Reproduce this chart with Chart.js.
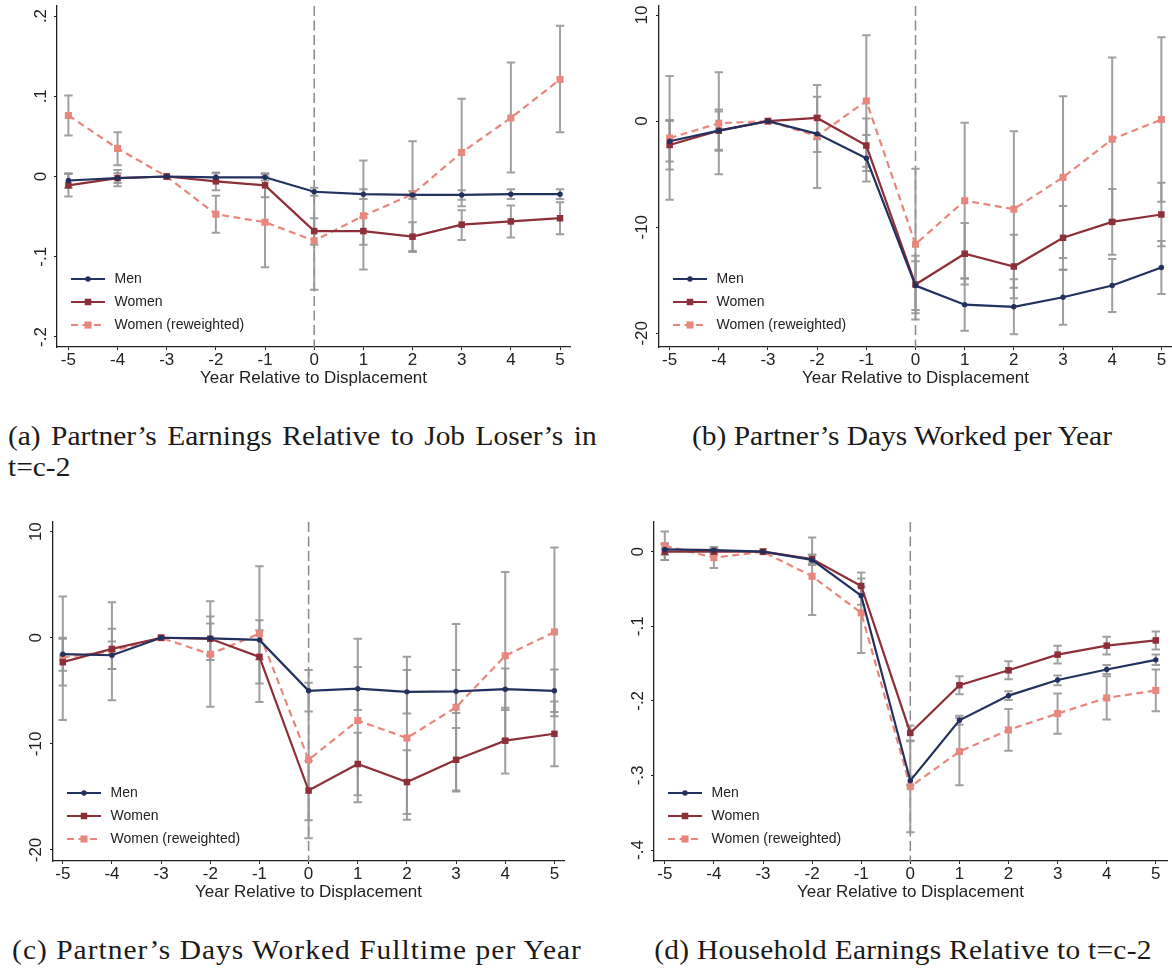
<!DOCTYPE html>
<html>
<head>
<meta charset="utf-8">
<script src="https://cdn.jsdelivr.net/npm/chart.js@4.4.1/dist/chart.umd.min.js"></script>
<style>
  html, body { margin: 0; padding: 0; background: #fff; }
  body { position: relative; width: 1172px; height: 968px; overflow: hidden; }
  canvas { position: absolute; }
  .cap {
    position: absolute;
    font-family: 'Liberation Serif', 'Times New Roman', serif;
    font-size: 27px;
    line-height: 31px;
    color: #1a1a1a;
    white-space: nowrap;
  }
  .mid { width: 700px; text-align: center; transform: scaleX(1.09); transform-origin: 350px 0; }
</style>
</head>
<body>
<canvas id="chartA" width="573" height="411" style="left:9px;top:-14px"></canvas>
<canvas id="chartB" width="573" height="411" style="left:611px;top:-14px"></canvas>
<canvas id="chartC" width="571" height="409" style="left:5px;top:502px"></canvas>
<canvas id="chartD" width="573" height="409" style="left:606px;top:502px"></canvas>

<div class="cap" style="left:8px;top:421px;width:540px;text-align:justify;text-align-last:justify;transform:scaleX(1.09);transform-origin:0 0;">(a) Partner’s Earnings Relative to Job Loser’s in</div>
<div class="cap" style="left:8px;top:452px;transform:scaleX(1.09);transform-origin:0 0;">t=c-2</div>
<div class="cap mid" style="left:552px;top:421px;">(b) Partner’s Days Worked per Year</div>
<div class="cap mid" style="left:-53px;top:935px;letter-spacing:0.95px;">(c) Partner’s Days Worked Fulltime per Year</div>
<div class="cap mid" style="left:553px;top:935px;letter-spacing:0.25px;">(d) Household Earnings Relative to t=c-2</div>

<script>
// ---- data ----
const years = [-5, -4, -3, -2, -1, 0, 1, 2, 3, 4, 5];
const seriesNames = ['Men', 'Women', 'Women (reweighted)'];
const xTitle = 'Year Relative to Displacement';

// (a) partner's earnings relative to job loser's in t=c-2
const menA      = [-0.005, -0.002, 0, -0.001, -0.001, -0.019, -0.022, -0.023, -0.023, -0.022, -0.022];
const menLoA    = [-0.014, -0.008, 0, -0.006, -0.005, -0.024, -0.028, -0.028, -0.029, -0.028, -0.028];
const menHiA    = [0.004, 0.004, 0, 0.004, 0.003, -0.014, -0.016, -0.018, -0.017, -0.016, -0.016];
const womenA    = [-0.011, -0.002, 0, -0.006, -0.011, -0.068, -0.068, -0.075, -0.060, -0.056, -0.052];
const womenLoA  = [-0.025, -0.012, 0, -0.017, -0.026, -0.085, -0.085, -0.093, -0.079, -0.076, -0.072];
const womenHiA  = [0.003, 0.008, 0, 0.005, 0.004, -0.052, -0.051, -0.057, -0.042, -0.036, -0.032];
const rewA      = [0.076, 0.035, 0, -0.047, -0.057, -0.080, -0.049, -0.022, 0.030, 0.073, 0.121];
const rewLoA    = [0.051, 0.014, 0, -0.070, -0.113, -0.141, -0.116, -0.094, -0.037, 0.005, 0.055];
const rewHiA    = [0.101, 0.055, 0, -0.024, 0.000, -0.019, 0.020, 0.044, 0.097, 0.142, 0.188];
const yTicksA   = [-0.2, -0.1, 0, 0.1, 0.2];
const yLabelsA  = ['-.2', '-.1', '0', '.1', '.2'];

// (b) partner's days worked per year
const menB      = [-1.9, -0.9, 0, -1.2, -3.5, -15.5, -17.3, -17.5, -16.6, -15.5, -13.8];
const menLoB    = [-3.8, -2.7, 0, -2.9, -5.7, -17.8, -19.75, -20.1, -19.2, -18.0, -16.3];
const menHiB    = [0.0, 0.9, 0, 0.5, -1.3, -13.2, -14.85, -14.9, -14.0, -13.0, -11.3];
const womenB    = [-2.25, -0.9, 0, 0.3, -2.3, -15.4, -12.5, -13.7, -11.0, -9.5, -8.8];
const womenLoB  = [-4.55, -2.8, 0, -1.7, -4.7, -18.1, -15.4, -16.7, -14.0, -12.6, -11.8];
const womenHiB  = [0.1, 1.1, 0, 2.3, 0.25, -12.7, -9.6, -10.7, -8.0, -6.4, -5.8];
const rewB      = [-1.6, -0.2, 0, -1.4, 1.9, -11.6, -7.5, -8.3, -5.3, -1.7, 0.15];
const rewLoB    = [-7.4, -5.0, 0, -6.3, -4.3, -18.7, -14.8, -15.7, -12.9, -9.4, -7.6];
const rewHiB    = [4.25, 4.6, 0, 3.4, 8.1, -4.5, -0.15, -0.95, 2.35, 6.0, 7.9];
const yTicksB   = [-20, -10, 0, 10];
const yLabelsB  = ['-20', '-10', '0', '10'];

// (c) partner's days worked fulltime per year
const menC      = [-1.55, -1.65, 0, -0.05, -0.2, -5.0, -4.8, -5.1, -5.05, -4.85, -5.0];
const menLoC    = [-3.1, -2.95, 0, -1.65, -2.05, -6.95, -6.8, -7.15, -7.1, -6.8, -7.0];
const menHiC    = [0.0, -0.35, 0, 1.35, 1.65, -3.05, -2.75, -3.05, -3.05, -2.9, -3.0];
const womenC    = [-2.3, -1.05, 0, -0.1, -1.8, -14.4, -11.9, -13.6, -11.5, -9.7, -9.05];
const womenLoC  = [-4.5, -2.95, 0, -2.1, -4.3, -17.2, -14.85, -16.6, -14.5, -12.8, -12.1];
const womenHiC  = [-0.1, 0.85, 0, 2.0, 0.7, -11.6, -8.95, -10.6, -8.5, -6.6, -6.0];
const rewC      = [-1.85, -1.25, 0, -1.55, 0.4, -11.5, -7.8, -9.45, -6.55, -1.7, 0.55];
const rewLoC    = [-7.75, -5.9, 0, -6.5, -6.05, -18.9, -15.5, -17.15, -14.4, -9.6, -7.4];
const rewHiC    = [3.9, 3.35, 0, 3.45, 6.75, -4.25, -0.1, -1.8, 1.3, 6.2, 8.5];
const yTicksC   = [-20, -10, 0, 10];
const yLabelsC  = ['-20', '-10', '0', '10'];

// (d) household earnings relative to t=c-2
const menD      = [0.003, 0.002, 0, -0.011, -0.059, -0.307, -0.226, -0.193, -0.172, -0.158, -0.145];
const menLoD    = [-0.004, -0.002, 0, -0.018, -0.071, -0.313, -0.232, -0.199, -0.179, -0.164, -0.152];
const menHiD    = [0.010, 0.006, 0, -0.004, -0.047, -0.301, -0.220, -0.187, -0.166, -0.152, -0.138];
const womenD    = [0, 0, 0, -0.010, -0.046, -0.243, -0.179, -0.159, -0.138, -0.126, -0.119];
const womenLoD  = [-0.011, -0.004, 0, -0.016, -0.056, -0.253, -0.191, -0.171, -0.150, -0.138, -0.131];
const womenHiD  = [0.011, 0.004, 0, -0.004, -0.036, -0.233, -0.167, -0.147, -0.126, -0.114, -0.107];
const rewD      = [0.008, -0.008, 0, -0.033, -0.082, -0.315, -0.268, -0.239, -0.217, -0.196, -0.186];
const rewLoD    = [-0.011, -0.022, 0, -0.085, -0.136, -0.376, -0.313, -0.267, -0.244, -0.225, -0.214];
const rewHiD    = [0.027, 0.006, 0, 0.019, -0.028, -0.254, -0.223, -0.211, -0.190, -0.167, -0.158];
const yTicksD   = [-0.4, -0.3, -0.2, -0.1, 0];
const yLabelsD  = ['-.4', '-.3', '-.2', '-.1', '0'];

// ---- styles ----
const FONT = "'Liberation Sans', Arial, Helvetica, sans-serif";
const INK = '#222222';
const looks = [
  { color: '#22315d', dash: [], shape: 'circle', size: 2.7 },
  { color: '#8d2f39', dash: [], shape: 'rect', size: 4.6 },
  { color: '#e8877d', dash: [7, 4.5], shape: 'rect', size: 5 }
];

// dashed line at 0 and the confidence interval caps, under the lines
const errorBars = {
  id: 'errorBars',
  beforeDatasetsDraw(chart) {
    const { ctx, chartArea, scales: { x, y } } = chart;
    ctx.save();
    const x0 = x.getPixelForValue(0);
    ctx.strokeStyle = '#8a8a8a';
    ctx.lineWidth = 1.5;
    ctx.setLineDash([10, 4.5]);
    ctx.beginPath();
    ctx.moveTo(x0, chartArea.top);
    ctx.lineTo(x0, chartArea.bottom);
    ctx.stroke();
    ctx.setLineDash([]);
    ctx.strokeStyle = 'rgba(150,150,150,0.9)';
    ctx.lineWidth = 2;
    chart.data.datasets.forEach(ds => {
      ds.lo.forEach((lo, i) => {
        const hi = ds.hi[i];
        if (Math.abs(hi - lo) < 1e-9) return;
        const px = x.getPixelForValue(years[i]);
        const p1 = y.getPixelForValue(lo);
        const p2 = y.getPixelForValue(hi);
        ctx.beginPath();
        ctx.moveTo(px, p1); ctx.lineTo(px, p2);
        ctx.moveTo(px - 4.2, p1); ctx.lineTo(px + 4.2, p1);
        ctx.moveTo(px - 4.2, p2); ctx.lineTo(px + 4.2, p2);
        ctx.stroke();
      });
    });
    ctx.restore();
  }
};

// legend drawn inside the plot, bottom left
const insideLegend = {
  id: 'insideLegend',
  afterDraw(chart) {
    const { ctx, chartArea } = chart;
    const rows = [68, 45, 22];
    chart.data.datasets.forEach((ds, i) => {
      const y = chartArea.bottom - rows[i];
      const x1 = chartArea.left + 14;
      const x2 = x1 + 34;
      const xm = (x1 + x2) / 2;
      ctx.save();
      ctx.strokeStyle = ds.borderColor;
      ctx.lineWidth = ds.borderWidth;
      ctx.setLineDash(ds.borderDash);
      ctx.beginPath();
      ctx.moveTo(x1, y); ctx.lineTo(x2, y);
      ctx.stroke();
      ctx.fillStyle = ds.borderColor;
      if (ds.pointStyle === 'circle') {
        ctx.beginPath();
        ctx.arc(xm, y, ds.pointRadius, 0, Math.PI * 2);
        ctx.fill();
      } else {
        const h = ds.pointRadius * Math.SQRT1_2;
        ctx.fillRect(xm - h, y - h, 2 * h, 2 * h);
      }
      ctx.fillStyle = INK;
      ctx.font = '14px ' + FONT;
      ctx.textBaseline = 'middle';
      ctx.textAlign = 'left';
      ctx.fillText(ds.label, x2 + 9.5, y);
      ctx.restore();
    });
  }
};

function makeChart(id, p) {
  const datasets = seriesNames.map((name, k) => ({
    label: name,
    data: years.map((x, i) => ({ x: x, y: p.means[k][i] })),
    lo: p.los[k],
    hi: p.his[k],
    borderColor: looks[k].color,
    backgroundColor: looks[k].color,
    borderWidth: 2.2,
    borderDash: looks[k].dash,
    pointStyle: looks[k].shape,
    pointRadius: looks[k].size,
    pointBorderWidth: 0,
    pointBackgroundColor: looks[k].color,
    tension: 0
  }));

  new Chart(document.getElementById(id), {
    type: 'line',
    data: { datasets },
    options: {
      responsive: false,
      animation: false,
      events: [],
      layout: { padding: { top: 20, right: 12, bottom: 0, left: 0 } },
      plugins: { legend: { display: false }, tooltip: { enabled: false } },
      scales: {
        x: {
          type: 'linear',
          min: p.xMin, max: p.xMax, bounds: 'data',
          afterBuildTicks: s => { s.ticks = years.map(v => ({ value: v })); },
          afterFit: s => { s.height = 50; },
          grid: { display: true, drawOnChartArea: false, drawTicks: true, tickLength: 3, color: INK, lineWidth: 1 },
          border: { display: true, color: INK, width: 1.3 },
          ticks: {
            font: { family: FONT, size: 17 }, color: INK, padding: 0,
            maxRotation: 0, autoSkip: false,
            callback: v => String(v)
          },
          title: {
            display: true, text: xTitle, color: INK,
            font: { family: FONT, size: 17 },
            padding: { top: 0, bottom: 8 }
          }
        },
        y: {
          type: 'linear',
          min: p.yMin, max: p.yMax, bounds: 'data',
          afterBuildTicks: s => { s.ticks = p.yTicks.map(v => ({ value: v })); },
          afterFit: s => { s.width = 48; },
          grid: { display: true, drawOnChartArea: false, drawTicks: true, tickLength: 3, color: INK, lineWidth: 1 },
          border: { display: true, color: INK, width: 1.3 },
          ticks: {
            font: { family: FONT, size: 17 }, color: INK,
            minRotation: 90, maxRotation: 90, crossAlign: 'center',
            padding: p.yPad, autoSkip: false,
            callback: (v, i) => p.yLabels[i]
          }
        }
      }
    },
    plugins: [errorBars, insideLegend]
  });
}

makeChart('chartA', {
  means: [menA, womenA, rewA], los: [menLoA, womenLoA, rewLoA], his: [menHiA, womenHiA, rewHiA],
  xMin: -5.232, xMax: 5.203, yMin: -0.2125, yMax: 0.2125,
  yTicks: yTicksA, yLabels: yLabelsA, yPad: 2.8
});
makeChart('chartB', {
  means: [menB, womenB, rewB], los: [menLoB, womenLoB, rewLoB], his: [menHiB, womenHiB, rewHiB],
  xMin: -5.216, xMax: 5.216, yMin: -21.29, yMax: 10.85,
  yTicks: yTicksB, yLabels: yLabelsB, yPad: 1.4
});
makeChart('chartC', {
  means: [menC, womenC, rewC], los: [menLoC, womenLoC, rewLoC], his: [menHiC, womenHiC, rewHiC],
  xMin: -5.199, xMax: 5.195, yMin: -21.04, yMax: 10.91,
  yTicks: yTicksC, yLabels: yLabelsC, yPad: 1.0
});
makeChart('chartD', {
  means: [menD, womenD, rewD], los: [menLoD, womenLoD, rewLoD], his: [menHiD, womenHiD, rewHiD],
  xMin: -5.22, xMax: 5.228, yMin: -0.4147, yMax: 0.0398,
  yTicks: yTicksD, yLabels: yLabelsD, yPad: 3.2
});
</script>
</body>
</html>
